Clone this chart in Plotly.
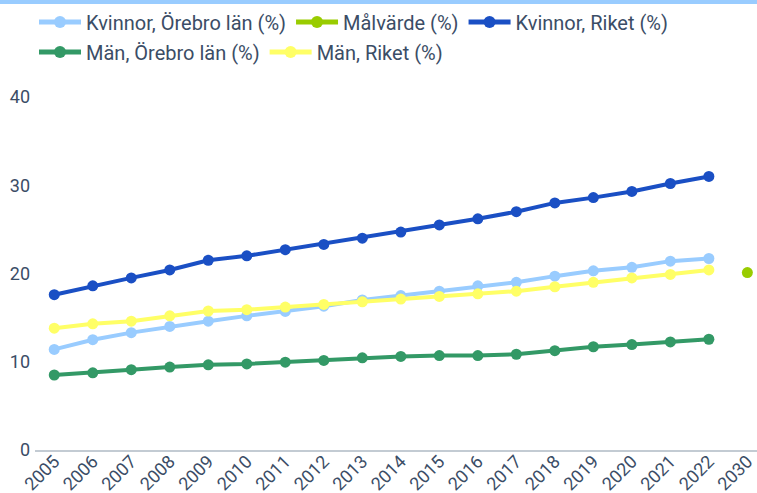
import plotly.graph_objects as go

years = ["2005", "2006", "2007", "2008", "2009", "2010", "2011", "2012", "2013",
         "2014", "2015", "2016", "2017", "2018", "2019", "2020", "2021", "2022", "2030"]

kvinnor_orebro = [11.4, 12.5, 13.3, 14.0, 14.6, 15.2, 15.7, 16.3, 17.0,
                  17.5, 18.0, 18.6, 19.0, 19.7, 20.3, 20.7, 21.4, 21.7, None]
malvarde = [None] * 18 + [20.1]
kvinnor_riket = [17.6, 18.6, 19.5, 20.4, 21.5, 22.0, 22.7, 23.3, 24.0,
                 24.7, 25.5, 26.2, 27.0, 28.0, 28.6, 29.3, 30.2, 31.0, None]
man_orebro = [8.5, 8.75, 9.1, 9.4, 9.65, 9.75, 9.95, 10.15, 10.45,
              10.6, 10.7, 10.7, 10.85, 11.25, 11.7, 11.95, 12.25, 12.55, None]
man_riket = [13.8, 14.3, 14.6, 15.2, 15.75, 15.9, 16.2, 16.5, 16.8,
             17.1, 17.4, 17.7, 18.0, 18.5, 19.0, 19.5, 19.9, 20.4, None]

y_ticks = [0, 10, 20, 30, 40]

series = [
    ("Kvinnor, Örebro län (%)", kvinnor_orebro, "#99ccff", "legend"),
    ("Målvärde (%)", malvarde, "#99cc00", "legend"),
    ("Kvinnor, Riket (%)", kvinnor_riket, "#1a4fc4", "legend"),
    ("Män, Örebro län (%)", man_orebro, "#339966", "legend2"),
    ("Män, Riket (%)", man_riket, "#ffff66", "legend2"),
]

text_color = "#3b4d66"
font_family = "Roboto, sans-serif"

fig = go.Figure()
for name, vals, color, leg in series:
    fig.add_trace(go.Scatter(
        x=years, y=vals, name=name, mode="lines+markers",
        line=dict(color=color, width=4),
        marker=dict(color=color, size=11),
        connectgaps=False, cliponaxis=False,
        legend=leg,
    ))

W, H = 757, 493
ml, mr, mt, mb = 35, 0, 97, 43
plot_h = H - mt - mb
plot_w = W - ml - mr

legend_common = dict(
    orientation="h", xref="container", yref="container",
    xanchor="left", yanchor="middle",
    font=dict(size=20, color=text_color),
    itemsizing="constant", itemwidth=42,
    bgcolor="rgba(0,0,0,0)",
)

fig.update_layout(
    width=W, height=H,
    margin=dict(l=ml, r=mr, t=mt, b=mb, pad=0, autoexpand=False),
    paper_bgcolor="white", plot_bgcolor="white",
    font=dict(family=font_family, size=18, color=text_color),
    showlegend=True,
    legend=dict(x=34 / W, y=1 - 22 / H, **legend_common),
    legend2=dict(x=34 / W, y=1 - 52 / H, **legend_common),
    xaxis=dict(
        type="category", categoryorder="array", categoryarray=years,
        range=[-0.5, 18.25], automargin=False,
        showgrid=False, zeroline=False,
        showline=True, linecolor="#c3cbd3", linewidth=2,
        tickangle=-45, ticks="", ticklabelstandoff=-8,
        tickfont=dict(size=18, color=text_color),
        fixedrange=True,
    ),
    yaxis=dict(
        range=[0, 40], tickvals=y_ticks, automargin=False,
        showgrid=False, zeroline=False, showline=False,
        ticks="", ticklabelstandoff=4, tickfont=dict(size=18, color=text_color),
        fixedrange=True,
    ),
    shapes=[dict(
        type="rect", xref="paper", yref="paper",
        x0=-ml / plot_w, x1=1.0,
        y0=1 + (mt - 4) / plot_h, y1=1 + mt / plot_h,
        fillcolor="#99ccff", line=dict(width=0), layer="above",
    )],
)

fig.write_html(
    "out.html",
    config={"displayModeBar": False},
    post_script="document.body.style.margin='0';document.body.style.overflow='hidden';",
)
